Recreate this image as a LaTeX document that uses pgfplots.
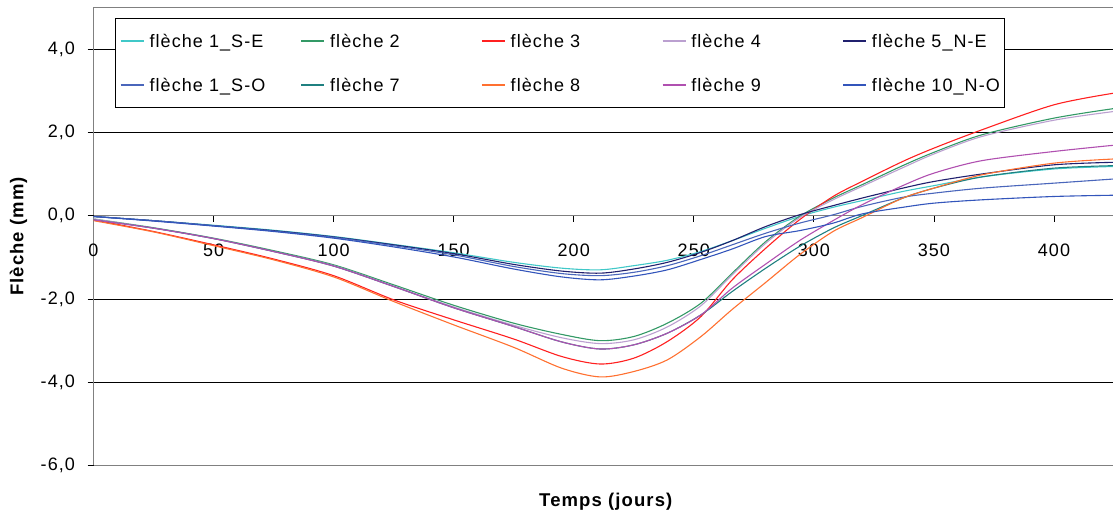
\documentclass[border=0pt]{standalone}
\usepackage{fontspec}
\setmainfont{Liberation Sans}[LetterSpace=6]
\usepackage{pgfplots}
\usepackage{pgfplotstable}
\pgfplotsset{compat=1.18}
\definecolor{cSE}{HTML}{40C8C8}
\definecolor{cG}{HTML}{339966}
\definecolor{cR}{HTML}{FF2020}
\definecolor{cL}{HTML}{BBA0D0}
\definecolor{cNE}{HTML}{20206E}
\definecolor{cSO}{HTML}{4A66BB}
\definecolor{cT}{HTML}{1F8080}
\definecolor{cO}{HTML}{FF7030}
\definecolor{cM}{HTML}{B050B0}
\definecolor{cNO}{HTML}{3355BB}
\definecolor{frame}{HTML}{808080}

\pgfplotstableread{
d    SE     NE     SO     NO
0    -0.02  -0.02  -0.02  -0.02
25   -0.12  -0.12  -0.12  -0.13
50   -0.23  -0.24  -0.24  -0.25
75   -0.35  -0.36  -0.37  -0.38
100  -0.50  -0.51  -0.52  -0.54
125  -0.69  -0.70  -0.72  -0.75
150  -0.89  -0.91  -0.94  -0.99
175  -1.12  -1.17  -1.22  -1.28
195  -1.26  -1.33  -1.39  -1.47
211  -1.30  -1.38  -1.44  -1.54
225  -1.20  -1.28  -1.36  -1.45
239  -1.07  -1.12  -1.20  -1.30
253  -0.86  -0.88  -0.96  -1.05
266  -0.60  -0.60  -0.70  -0.80
280  -0.30  -0.26  -0.42  -0.50
294  -0.02   0.02  -0.18  -0.36
308   0.20   0.24   0.02  -0.18
320   0.36   0.42   0.22   0.04
337   0.58   0.66   0.44   0.20
350   0.72   0.82   0.54   0.30
370   0.93   1.00   0.66   0.38
400   1.12   1.22   0.78   0.46
425   1.18   1.28   0.88   0.49
}\tA

\pgfplotstableread{
d    G      R      L      T      O      M
0    -0.08  -0.10  -0.08  -0.10  -0.12  -0.10
25   -0.29  -0.38  -0.30  -0.30  -0.39  -0.30
50   -0.54  -0.70  -0.55  -0.55  -0.72  -0.55
75   -0.84  -1.04  -0.86  -0.86  -1.06  -0.86
100  -1.18  -1.44  -1.20  -1.21  -1.47  -1.21
125  -1.66  -2.02  -1.69  -1.70  -2.06  -1.70
150  -2.15  -2.50  -2.19  -2.21  -2.62  -2.21
175  -2.58  -2.96  -2.63  -2.66  -3.16  -2.66
195  -2.85  -3.38  -2.93  -3.03  -3.66  -3.03
211  -3.00  -3.56  -3.07  -3.20  -3.87  -3.20
225  -2.90  -3.42  -2.98  -3.10  -3.74  -3.10
239  -2.58  -3.02  -2.67  -2.82  -3.46  -2.82
253  -2.10  -2.42  -2.16  -2.38  -2.90  -2.38
266  -1.38  -1.54  -1.42  -1.82  -2.25  -1.74
280  -0.62  -0.78  -0.66  -1.26  -1.60  -1.16
294  -0.02  -0.10  -0.05  -0.74  -0.94  -0.60
308   0.42   0.46   0.38  -0.30  -0.38  -0.12
320   0.74   0.82   0.70   0.00  -0.05   0.26
337   1.20   1.30   1.15   0.42   0.42   0.72
350   1.52   1.62   1.48   0.66   0.66   1.02
370   1.94   2.06   1.90   0.93   0.98   1.32
400   2.34   2.66   2.29   1.14   1.26   1.54
425   2.57   2.94   2.50   1.20   1.36   1.69
}\tB

\begin{document}
\begin{tikzpicture}
\path[use as bounding box] (0,0) rectangle (1113pt,513pt);
\begin{axis}[
  at={(93.5pt,47.3pt)}, anchor=south west,
  scale only axis, width=1020.5pt, height=458.4pt,
  xmin=0, xmax=425, ymin=-6, ymax=5,
  axis x line=middle, axis y line=left,
  every inner x axis line/.append style={-, draw=frame, line width=1.2pt},
  every outer y axis line/.append style={-, draw=frame, line width=1.2pt},
  hide obscured x ticks=false, hide obscured y ticks=false,
  xtick={0,50,...,400}, xticklabels={0,50,100,150,200,250,300,350,400},
  ytick={-4,-2,2,4}, yticklabels={{-4,0},{-2,0},{2,0},{4,0}},
  extra y ticks={-6,0}, extra y tick labels={{-6,0},{0,0}},
  extra y tick style={grid=none},
  ymajorgrids, grid style={black, line width=0.9pt},
  tick align=outside, major tick length=6pt,
  tick style={black, line width=0.8pt},
  ticklabel style={font=\fontsize{18}{20}\selectfont},
  xticklabel style={anchor=north, yshift=-19pt},
  yticklabel style={anchor=east, xshift=-9pt},
  xlabel={Temps (jours)}, ylabel={Flèche (mm)},
  every axis x label/.style={at={(axis description cs:0.502,-0.0894)}, anchor=base, font=\bfseries\fontsize{18.5}{20}\selectfont},
  every axis y label/.style={at={(axis description cs:-0.0735,0.5)}, anchor=center, rotate=90, font=\bfseries\fontsize{18.5}{20}\selectfont},
  clip mode=individual,
  legend columns=5,
  legend cell align=left,
  legend image code/.code={\draw[#1, line width=1.6pt] (0pt,0pt) -- (23pt,0pt);},
  legend style={at={(axis description cs:0.0206,0.976)}, anchor=north west,
    draw=black, line width=0.8pt, fill=white,
    inner xsep=5pt, inner ysep=13pt, row sep=25pt,
    font=\fontsize{18}{20}\selectfont,
    nodes={inner sep=0pt, text height=16pt, text depth=3pt},
    /tikz/every odd column/.append style={column sep=5pt},
    /tikz/every even column/.append style={column sep=0pt}},
]
\addplot[cSE, line width=1.1pt, smooth] table[x=d, y=SE] {\tA};
\addlegendentry{\makebox[151pt][l]{flèche 1\_S-E}}
\addplot[cG, line width=1.1pt, smooth] table[x=d, y=G] {\tB};
\addlegendentry{\makebox[151pt][l]{flèche 2}}
\addplot[cR, line width=1.1pt, smooth] table[x=d, y=R] {\tB};
\addlegendentry{\makebox[151pt][l]{flèche 3}}
\addplot[cL, line width=1.1pt, smooth] table[x=d, y=L] {\tB};
\addlegendentry{\makebox[151pt][l]{flèche 4}}
\addplot[cNE, line width=1.1pt, smooth] table[x=d, y=NE] {\tA};
\addlegendentry{flèche 5\_N-E}
\addplot[cSO, line width=1.1pt, smooth] table[x=d, y=SO] {\tA};
\addlegendentry{\makebox[151pt][l]{flèche 1\_S-O}}
\addplot[cT, line width=1.1pt, smooth] table[x=d, y=T] {\tB};
\addlegendentry{\makebox[151pt][l]{flèche 7}}
\addplot[cO, line width=1.1pt, smooth] table[x=d, y=O] {\tB};
\addlegendentry{\makebox[151pt][l]{flèche 8}}
\addplot[cM, line width=1.1pt, smooth] table[x=d, y=M] {\tB};
\addlegendentry{\makebox[151pt][l]{flèche 9}}
\addplot[cNO, line width=1.1pt, smooth] table[x=d, y=NO] {\tA};
\addlegendentry{flèche 10\_N-O}
\draw[frame, line width=1.2pt] (rel axis cs:0,1) -- (rel axis cs:1,1);
\draw[frame, line width=1.2pt] (rel axis cs:0,0) -- (rel axis cs:1,0);
\end{axis}
\end{tikzpicture}
\end{document}
